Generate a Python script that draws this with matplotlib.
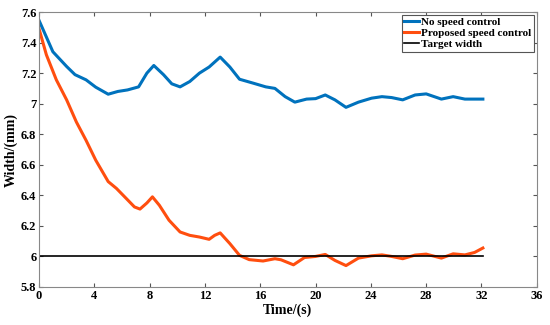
import numpy as np
import matplotlib.pyplot as plt

# values
t_blue = [0, 1, 2, 2.6, 3.4, 4.1, 5.0, 5.7, 6.4, 7.2, 7.8, 8.3, 9.0, 9.6, 10.2, 10.9,
          11.6, 12.3, 13.1, 13.8, 14.5, 15.5, 16.4, 17.06, 17.8, 18.5, 19.35, 20, 20.7,
          21.4, 22.2, 23.1, 24.05, 24.8, 25.5, 26.3, 27.2, 28.0, 29.1, 29.95, 30.8, 32.1]
w_blue = [7.545, 7.34, 7.243, 7.19, 7.156, 7.108, 7.062, 7.08, 7.09, 7.11, 7.2, 7.25,
          7.19, 7.13, 7.11, 7.145, 7.2, 7.24, 7.305, 7.24, 7.16, 7.134, 7.11, 7.10,
          7.046, 7.01, 7.03, 7.033, 7.057, 7.025, 6.976, 7.01, 7.036, 7.046, 7.04,
          7.025, 7.057, 7.064, 7.03, 7.046, 7.03, 7.03]

t_orange = [0, 0.53, 1.25, 2.0, 2.7, 3.4, 4.1, 5.0, 5.6, 6.3, 6.9, 7.3, 7.8, 8.2, 8.7,
            9.4, 10.2, 10.9, 11.6, 12.3, 12.7, 13.1, 13.8, 14.5, 15.2, 16.2, 17.06, 17.5,
            18.4, 19.2, 20, 20.7, 21.4, 22.2, 23.1, 24.05, 24.8, 25.5, 26.3, 27.2, 28,
            29.1, 29.95, 30.8, 31.5, 32.1]
w_orange = [7.49, 7.32, 7.156, 7.024, 6.88, 6.76, 6.63, 6.49, 6.445, 6.38, 6.324, 6.31,
            6.35, 6.39, 6.335, 6.237, 6.16, 6.138, 6.127, 6.112, 6.138, 6.154, 6.084,
            6.007, 5.979, 5.97, 5.985, 5.978, 5.945, 5.993, 6.0, 6.013, 5.974, 5.94,
            5.989, 6.004, 6.01, 6.0, 5.985, 6.009, 6.015, 5.989, 6.017, 6.01, 6.026, 6.055]

t_target = [0, 32.1]
w_target = [6.0, 6.0]

plt.rcParams['font.family'] = ['Liberation Serif', 'DejaVu Serif']
plt.rcParams['font.weight'] = 'bold'

fig = plt.figure(figsize=(5.5, 3.25), dpi=100)
ax = fig.add_axes([0.071, 0.117, 0.905, 0.846])

ax.plot(t_blue, w_blue, color='#0072BD', lw=2.2, solid_joinstyle='round', label='No speed control')
ax.plot(t_orange, w_orange, color='#FF4E0F', lw=2.2, solid_joinstyle='round', label='Proposed speed control')
ax.plot(t_target, w_target, color='black', lw=1.2, label='Target width')

ax.set_xlim(0, 36)
ax.set_ylim(5.8, 7.6)
ax.set_xticks(np.arange(0, 37, 4))
ax.set_yticks(np.arange(5.8, 7.61, 0.2))
ax.set_yticklabels(['5.8', '6', '6.2', '6.4', '6.6', '6.8', '7', '7.2', '7.4', '7.6'])
ax.tick_params(direction='in', top=True, right=True, length=3, labelsize=9,
               color='#555555', pad=2)
for s in ax.spines.values():
    s.set_color('#888888')
    s.set_linewidth(0.8)

ax.set_xlabel('Time/(s)', fontsize=10, fontweight='bold', labelpad=1)
ax.set_ylabel('Width/(mm)', fontsize=10, fontweight='bold', labelpad=2)

leg = ax.legend(loc='upper right', fontsize=8, handlelength=1.3, handletextpad=0.2,
                borderpad=0.25, labelspacing=0.1, borderaxespad=0.25, fancybox=False,
                framealpha=1, edgecolor='#555555')
leg.get_frame().set_linewidth(0.8)

fig.savefig('out.png', dpi=100)
